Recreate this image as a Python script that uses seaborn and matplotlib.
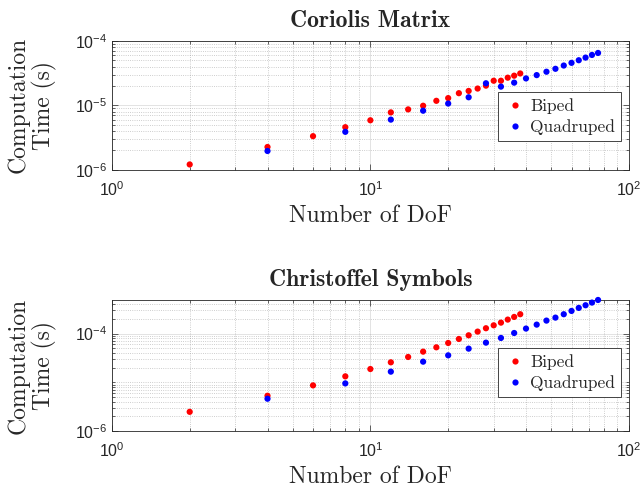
#import
import numpy as np
import pandas as pd
import matplotlib
matplotlib.use('Agg')
import matplotlib.pyplot as plt
from matplotlib.ticker import LogLocator, LogFormatterSciNotation, NullFormatter
import seaborn as sns


#data
biped_dof = [2, 4, 6, 8, 10, 12, 14, 16, 18, 20, 22, 24, 26, 28, 30, 32, 34, 36, 38]
quad_dof = [4, 8, 12, 16, 20, 24, 28, 32, 36, 40, 44, 48, 52, 56, 60, 64, 68, 72, 76]

coriolis_biped = [1.21e-6, 2.26e-6, 3.33e-6, 4.59e-6, 5.88e-6, 7.80e-6, 8.68e-6, 9.89e-6,
                  1.18e-5, 1.30e-5, 1.55e-5, 1.68e-5, 1.83e-5, 2.03e-5, 2.42e-5, 2.42e-5,
                  2.70e-5, 2.90e-5, 3.14e-5]
coriolis_quad = [1.96e-6, 3.89e-6, 6.02e-6, 8.28e-6, 1.07e-5, 1.34e-5, 2.21e-5, 1.96e-5,
                 2.26e-5, 2.63e-5, 2.96e-5, 3.34e-5, 3.71e-5, 4.17e-5, 4.59e-5, 5.04e-5,
                 5.54e-5, 6.09e-5, 6.54e-5]

christoffel_biped = [2.49e-6, 5.32e-6, 8.68e-6, 1.33e-5, 1.88e-5, 2.58e-5, 3.32e-5, 4.27e-5,
                     5.24e-5, 6.43e-5, 7.77e-5, 9.24e-5, 1.10e-4, 1.29e-4, 1.48e-4, 1.68e-4,
                     1.94e-4, 2.20e-4, 2.50e-4]
christoffel_quad = [4.62e-6, 9.53e-6, 1.66e-5, 2.66e-5, 3.59e-5, 4.92e-5, 6.53e-5, 8.15e-5,
                    1.03e-4, 1.27e-4, 1.53e-4, 1.85e-4, 2.13e-4, 2.50e-4, 2.92e-4, 3.37e-4,
                    3.82e-4, 4.33e-4, 4.90e-4]

titles = ['Coriolis Matrix', 'Christoffel Symbols']
labels = ['Biped', 'Quadruped']
colors = {'Biped': 'red', 'Quadruped': 'blue'}
dark = '#262626'


#def
def draw(ax, biped, quad, title, ylim, yticks, leg_y):
    df = pd.concat([
        pd.DataFrame({'dof': biped_dof, 'time': biped, 'robot': labels[0]}),
        pd.DataFrame({'dof': quad_dof, 'time': quad, 'robot': labels[1]}),
    ])
    sns.scatterplot(data=df, x='dof', y='time', hue='robot', palette=colors,
                    s=20, linewidth=0, ax=ax, zorder=3, clip_on=False)
    ax.set_xscale('log')
    ax.set_yscale('log')
    ax.set_xlim(1, 100)
    ax.set_ylim(*ylim)
    ax.set_yticks(yticks)
    ax.yaxis.set_minor_locator(LogLocator(base=10, subs=np.arange(1, 10), numticks=30))
    ax.xaxis.set_minor_locator(LogLocator(base=10, subs=np.arange(2, 10), numticks=30))
    ax.xaxis.set_major_formatter(LogFormatterSciNotation())
    ax.yaxis.set_major_formatter(LogFormatterSciNotation())
    ax.xaxis.set_minor_formatter(NullFormatter())
    ax.yaxis.set_minor_formatter(NullFormatter())

    #matlab-ish box and grid
    ax.set_axisbelow(True)
    ax.grid(True, which='major', color=dark, alpha=0.15, lw=0.6)
    ax.grid(True, which='minor', color=dark, alpha=0.3, lw=0.6, ls=':')
    ax.tick_params(which='both', direction='in', top=True, right=True,
                   color=dark, labelcolor=dark, width=0.5,
                   labelsize=11.5, labelfontfamily='Liberation Sans')
    ax.tick_params(which='major', length=4)
    ax.tick_params(which='minor', length=2)
    ax.tick_params(axis='x', which='major', pad=7.5)
    for sp in ax.spines.values():
        sp.set_color(dark)
        sp.set_linewidth(0.6)

    ax.set_title(title, fontfamily='cmb10', fontsize=17, pad=10)
    ax.set_xlabel('Number of DoF', fontsize=17, labelpad=4)
    ax.set_ylabel('Computation\nTime (s)', fontsize=17, linespacing=1.1, labelpad=13)

    h, l = ax.get_legend_handles_labels()
    leg = ax.legend(h, l, loc='lower right', bbox_to_anchor=(0.985, leg_y),
                    fancybox=False, framealpha=1, edgecolor=dark, fontsize=12.5,
                    handletextpad=0.3, borderpad=0.35, labelspacing=0.3,
                    handlelength=1.2, borderaxespad=0)
    leg.get_frame().set_linewidth(0.6)


if __name__ == '__main__':
    sns.set_style('ticks')
    plt.rcParams['font.family'] = ['cmr10', 'DejaVu Serif']
    plt.rcParams['axes.formatter.use_mathtext'] = True
    plt.rcParams['mathtext.fontset'] = 'custom'
    plt.rcParams['mathtext.rm'] = 'Liberation Sans'

    fig = plt.figure(figsize=(6.43, 4.95), dpi=100)
    ax1 = fig.add_axes([0.174, 0.657, 0.804, 0.26])
    ax2 = fig.add_axes([0.174, 0.129, 0.804, 0.265])

    draw(ax1, coriolis_biped, coriolis_quad, titles[0], (1e-6, 1e-4), [1e-6, 1e-5, 1e-4], 0.225)
    draw(ax2, christoffel_biped, christoffel_quad, titles[1],
         (1e-6, max(christoffel_quad)), [1e-6, 1e-4], 0.262)

    fig.savefig('out.png', dpi=100)
